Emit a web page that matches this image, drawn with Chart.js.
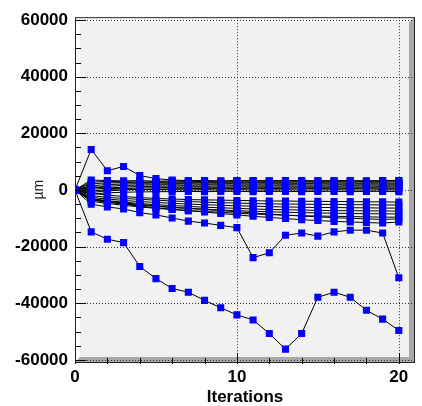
<!DOCTYPE html>
<html>
<head>
<meta charset="utf-8">
<script src="https://cdn.jsdelivr.net/npm/chart.js@4.4.1/dist/chart.umd.min.js"></script>
<style>
  body { margin: 0; background: #ffffff; }
  canvas { display: block; }
</style>
</head>
<body>
<canvas id="chart" width="422" height="406"></canvas>
<script>
const iterations = [0, 1, 2, 3, 4, 5, 6, 7, 8, 9, 10, 11, 12, 13, 14, 15, 16, 17, 18, 19, 20];
const xTickValues = [0, 10, 20];
const yTickValues = [-60000, -40000, -20000, 0, 20000, 40000, 60000];

// outliers
const seriesA = [0, 14300, 6800, 8300, 5100, 4000, 3500, 3300, 3300, 3200, 3300, 3300, 3200, 3300, 3300, 3200, 3300, 3300, 3200, 3300, 3300];
const seriesB = [0, -14800, -17400, -18600, -27000, -31300, -34800, -36100, -39000, -41600, -44100, -45900, -50700, -56200, -50700, -37900, -36100, -37900, -42500, -45600, -49600];
const seriesC = [0, -5000, -6000, -6700, -8000, -8800, -9900, -11000, -11700, -12500, -13300, -23900, -22200, -16000, -15200, -16300, -14800, -14200, -14200, -15200, -31000];

// upper band
const seriesU1 = [0, 3500, 3300, 3200, 3300, 3100, 3200, 3100, 3200, 3100, 3200, 3300, 3200, 3200, 3100, 3200, 3100, 3200, 3100, 3200, 3300];
const seriesU2 = [0, 2800, 3000, 2900, 2800, 2900, 2800, 2900, 2900, 2800, 2900, 2800, 2900, 2800, 2900, 2800, 2900, 2800, 2900, 2800, 2900];
const seriesU3 = [0, 2200, 2500, 2600, 2500, 2600, 2500, 2500, 2600, 2500, 2500, 2600, 2500, 2500, 2400, 2500, 2500, 2400, 2500, 2500, 2400];
const seriesU4 = [0, 1500, 1900, 2100, 2200, 2100, 2200, 2200, 2100, 2200, 2200, 2100, 2200, 2100, 2200, 2200, 2100, 2100, 2200, 2100, 2100];
const seriesU5 = [0, 800, 1300, 1600, 1700, 1800, 1800, 1700, 1800, 1800, 1700, 1800, 1700, 1800, 1800, 1700, 1800, 1700, 1800, 1700, 1800];
const seriesU6 = [0, 200, 700, 1000, 1200, 1300, 1400, 1400, 1300, 1400, 1400, 1300, 1400, 1400, 1300, 1400, 1300, 1400, 1400, 1300, 1400];
const seriesU7 = [0, -400, 100, 500, 700, 800, 900, 1000, 1000, 900, 1000, 1000, 900, 1000, 1000, 900, 1000, 1000, 900, 1000, 1000];
const seriesU8 = [0, -900, -300, 0, 200, 300, 400, 500, 500, 600, 500, 600, 500, 600, 600, 500, 600, 500, 600, 600, 500];
const seriesU9 = [0, 1200, 600, 300, 200, 100, 100, 0, 100, 0, 100, 0, 0, 100, 0, 0, 100, 0, 0, 100, 0];
const seriesU10 = [0, -1500, -1000, -800, -700, -600, -600, -500, -600, -500, -500, -600, -500, -500, -600, -500, -500, -600, -500, -500, -600];

// lower band
const seriesL1 = [0, -1200, -1800, -2300, -2700, -3000, -3200, -3400, -3500, -3600, -3700, -3800, -3900, -3900, -4000, -4000, -4100, -4100, -4200, -4200, -4300];
const seriesL2 = [0, -2000, -2600, -3000, -3300, -3600, -3900, -4100, -4300, -4500, -4600, -4800, -4900, -5000, -5000, -5100, -5100, -5200, -5200, -5300, -5300];
const seriesL3 = [0, -2600, -3200, -3700, -4100, -4400, -4700, -5000, -5200, -5400, -5600, -5700, -5900, -6000, -6100, -6200, -6200, -6300, -6300, -6400, -6400];
const seriesL4 = [0, -3000, -3800, -4300, -4800, -5200, -5500, -5800, -6100, -6300, -6500, -6700, -6900, -7000, -7100, -7200, -7300, -7300, -7400, -7400, -7500];
const seriesL5 = [0, -3500, -4300, -4900, -5400, -5800, -6200, -6500, -6800, -7100, -7300, -7500, -7700, -7900, -8000, -8100, -8200, -8300, -8400, -8400, -8500];
const seriesL6 = [0, -4000, -4800, -5400, -6000, -6500, -6900, -7300, -7600, -7900, -8200, -8500, -8700, -8900, -9100, -9200, -9300, -9400, -9500, -9600, -9600];
const seriesL7 = [0, -3200, -4000, -4600, -5100, -5600, -6100, -6500, -6900, -7300, -7700, -8100, -8500, -8900, -9200, -9500, -9800, -10000, -10200, -10400, -10200];
const seriesL8 = [0, -3500, -4300, -5000, -5700, -6300, -6800, -7300, -7800, -8300, -8800, -9300, -9700, -10100, -10500, -10800, -11100, -11300, -11500, -11700, -11300];

const allSeries = [
  seriesA, seriesB, seriesC,
  seriesU1, seriesU2, seriesU3, seriesU4, seriesU5, seriesU6, seriesU7, seriesU8, seriesU9, seriesU10,
  seriesL1, seriesL2, seriesL3, seriesL4, seriesL5, seriesL6, seriesL7, seriesL8
];

const FONT = "'Liberation Sans', Arial, Helvetica, sans-serif";

// ROOT-style frame: grey pad, bevel, dotted grid, inward ticks
const rootFrame = {
  id: 'rootFrame',
  beforeDraw(chart) {
    const { ctx, chartArea: a, scales } = chart;
    const bw = 5;
    ctx.save();
    ctx.fillStyle = '#f1f1f1';
    ctx.fillRect(a.left, a.top, a.right - a.left, a.bottom - a.top);

    ctx.fillStyle = '#ffffff';
    ctx.beginPath();
    ctx.moveTo(a.left, a.bottom);
    ctx.lineTo(a.left, a.top);
    ctx.lineTo(a.right, a.top);
    ctx.lineTo(a.right - bw, a.top + bw);
    ctx.lineTo(a.left + bw, a.top + bw);
    ctx.lineTo(a.left + bw, a.bottom - bw);
    ctx.closePath();
    ctx.fill();

    ctx.fillStyle = '#a8a8a8';
    ctx.beginPath();
    ctx.moveTo(a.left, a.bottom);
    ctx.lineTo(a.right, a.bottom);
    ctx.lineTo(a.right, a.top);
    ctx.lineTo(a.right - bw - 1, a.top + bw);
    ctx.lineTo(a.right - bw - 1, a.bottom - bw);
    ctx.lineTo(a.left + bw, a.bottom - bw);
    ctx.closePath();
    ctx.fill();

    // dotted grid
    ctx.strokeStyle = '#333333';
    ctx.lineWidth = 1;
    ctx.setLineDash([1, 2]);
    ctx.beginPath();
    yTickValues.forEach(v => {
      const y = Math.round(scales.y.getPixelForValue(v)) + 0.5;
      ctx.moveTo(a.left, y);
      ctx.lineTo(a.right, y);
    });
    xTickValues.forEach(v => {
      if (v === 0) return;
      const x = Math.round(scales.x.getPixelForValue(v)) + 0.5;
      ctx.moveTo(x, a.top);
      ctx.lineTo(x, a.bottom);
    });
    ctx.stroke();
    ctx.restore();
  },
  afterDraw(chart) {
    const { ctx, chartArea: a, scales } = chart;
    ctx.save();
    ctx.strokeStyle = '#000000';
    ctx.lineWidth = 1;
    ctx.beginPath();
    for (let v = -60000; v <= 60000; v += 5000) {
      const y = Math.round(scales.y.getPixelForValue(v)) + 0.5;
      const len = v % 20000 === 0 ? 11 : 6;
      ctx.moveTo(a.left, y);
      ctx.lineTo(a.left + len, y);
    }
    for (let v = 0; v <= 20; v += 2) {
      const x = Math.round(scales.x.getPixelForValue(v)) + 0.5;
      const len = v % 10 === 0 ? 11 : 6;
      ctx.moveTo(x, a.bottom + 2);
      ctx.lineTo(x, a.bottom + 2 - len);
    }
    ctx.stroke();
    ctx.strokeStyle = '#222222';
    ctx.strokeRect(a.left + 0.5, a.top + 0.5, a.right - a.left - 1, a.bottom - a.top);
    ctx.restore();
  }
};

new Chart(document.getElementById('chart'), {
  type: 'line',
  data: {
    datasets: allSeries.map(vals => ({
      data: vals.map((y, i) => ({ x: iterations[i], y: y })),
      borderColor: '#000000',
      borderWidth: 1,
      tension: 0,
      pointStyle: 'rect',
      pointRadius: 5,
      pointBackgroundColor: '#0000ff',
      pointBorderColor: '#1a1aff',
      pointBorderWidth: 0,
      fill: false
    }))
  },
  options: {
    responsive: false,
    animation: false,
    events: [],
    layout: { padding: { top: 5, right: 7, bottom: 0, left: 0 } },
    plugins: {
      legend: { display: false },
      tooltip: { enabled: false }
    },
    scales: {
      x: {
        type: 'linear',
        min: 0,
        max: 21,
        grid: { display: false, drawTicks: false },
        border: { display: false },
        afterBuildTicks: scale => { scale.ticks = xTickValues.map(v => ({ value: v })); },
        afterFit: scale => { scale.height = 44; },
        ticks: {
          color: '#000000',
          padding: 5,
          maxRotation: 0,
          font: { family: FONT, size: 17, weight: 'bold' },
          callback: v => String(v)
        },
        title: {
          display: true,
          text: 'Iterations',
          color: '#000000',
          padding: { top: 0, bottom: 0 },
          font: { family: FONT, size: 17, weight: 'bold', lineHeight: 1 }
        }
      },
      y: {
        min: -60750,
        max: 61000,
        grid: { display: false, drawTicks: false },
        border: { display: false },
        afterBuildTicks: scale => { scale.ticks = yTickValues.map(v => ({ value: v })); },
        afterFit: scale => { scale.width = 75; },
        ticks: {
          color: '#000000',
          padding: 7,
          font: { family: FONT, size: 17, weight: 'bold' },
          callback: v => String(v)
        },
        title: {
          display: true,
          text: 'µm',
          color: '#222222',
          padding: { top: 32, bottom: 0 },
          font: { family: FONT, size: 14, lineHeight: 1 }
        }
      }
    }
  },
  plugins: [rootFrame]
});
</script>
</body>
</html>
